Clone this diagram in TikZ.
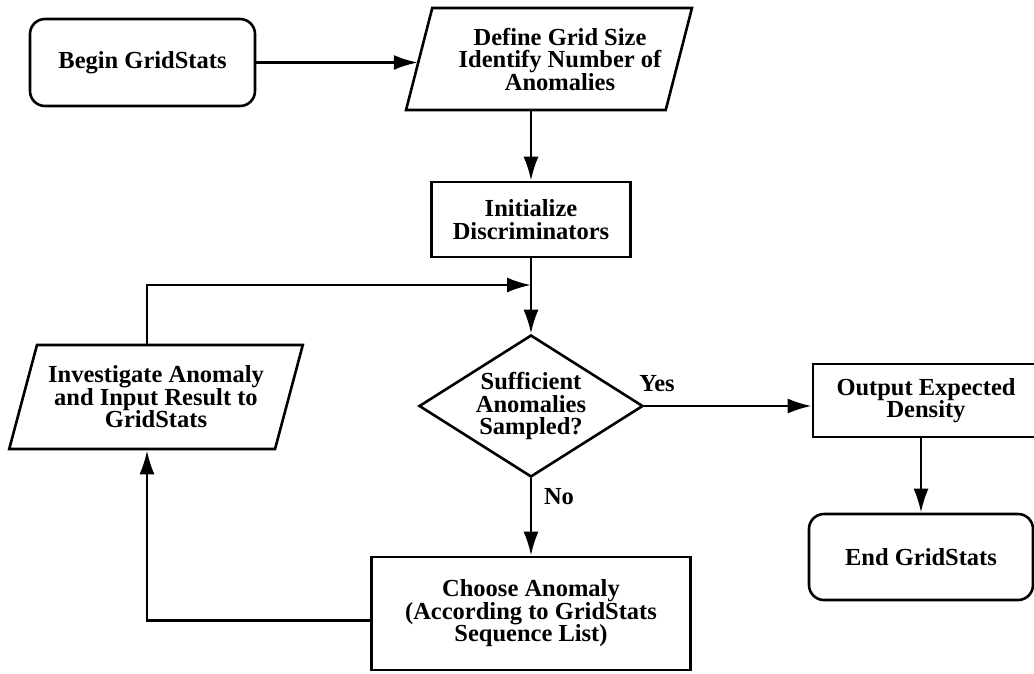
\documentclass[tikz,border=0pt]{standalone}
\usepackage{fontspec}
\setmainfont{Liberation Serif}
\usetikzlibrary{shapes.geometric,arrows.meta}
\begin{document}
\begin{tikzpicture}[x=1pt,y=-1pt,
  every node/.style={font=\fontsize{24.5}{22.5}\selectfont\bfseries, align=center, inner sep=0pt},
  shapeline/.style={draw, line width=2.6pt},
  term/.style={shapeline, rounded corners=15pt},
  procbox/.style={shapeline, rectangle},
  iobox/.style={shapeline, trapezium, trapezium left angle=68, trapezium right angle=112, trapezium stretches},
  decide/.style={shapeline, diamond, aspect=1.58},
  conn/.style={line width=2.6pt},
  arr/.style={conn, -{Latex[length=24pt,width=15pt]}}
]
\useasboundingbox (0,0) rectangle (1034,673);

\node[term, minimum width=225pt, minimum height=87pt] (begin) at (142.5,62.5) {Begin GridStats};
\node[iobox, minimum width=286pt, minimum height=102pt] (define) at (549,59)
  {\hspace*{22pt}Define Grid Size\\\hspace*{22pt}Identify Number of\\\hspace*{22pt}Anomalies};
\node[procbox, minimum width=199pt, minimum height=75pt] (init) at (531,219.5) {Initialize\\Discriminators};
\node[decide, minimum width=224pt, minimum height=142pt] (diam) at (531,406) {Sufficient\\Anomalies\\Sampled?};
\node[procbox, minimum width=319pt, minimum height=113pt] (choose) at (531,613.5) {Choose Anomaly\\(According to GridStats\\Sequence List)};
\node[iobox, minimum width=294pt, minimum height=104pt] (inv) at (156,397) {Investigate Anomaly\\and Input Result to\\GridStats};
\node[procbox, minimum width=226pt, minimum height=73pt] (out) at (926,400.5) {Output Expected\\Density};
\node[term, minimum width=224pt, minimum height=86pt] (end) at (921,557) {End GridStats};

\node (yes) at (657,384) {Yes};
\node (no) at (559,497) {No};

\coordinate (loopx) at (147,0);
\coordinate (merge) at (531,285);

\draw[arr] (begin.east) -- (begin.east -| define.west);
\draw[arr] (init.north |- define.south) -- (init.north);
\draw[arr] (init.south) -- (diam.north);
\draw[arr] (diam.east) -- (diam.east -| out.west);
\draw[arr] (diam.south) -- (choose.north);
\draw[arr] (out.south -| end.north) -- (end.north);
\draw[arr] ([yshift=-7pt]choose.west) -| (loopx |- inv.south);
\draw[arr] (loopx |- inv.north) |- (merge);
\end{tikzpicture}
\end{document}
